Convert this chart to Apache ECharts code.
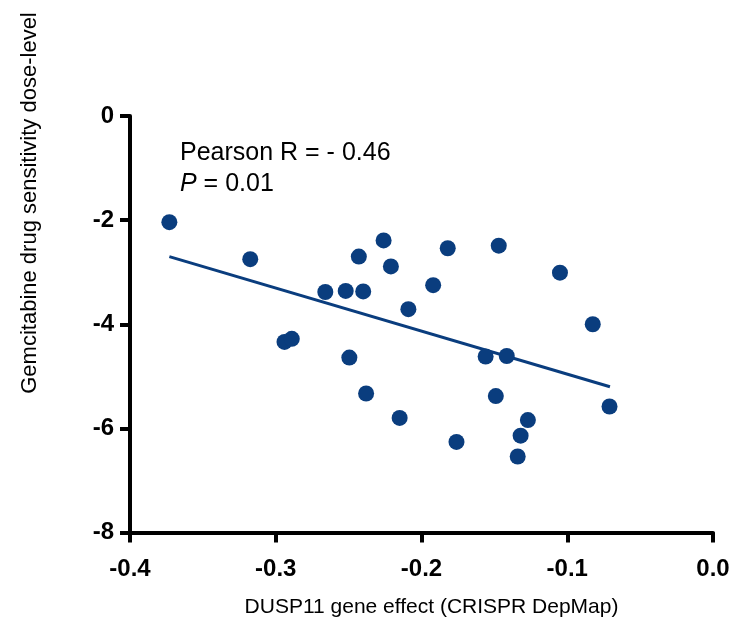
<!DOCTYPE html>
<html>
<head>
<meta charset="utf-8">
<script src="https://cdn.jsdelivr.net/npm/echarts@6/dist/echarts.min.js"></script>
<style>
html,body{margin:0;padding:0;background:#fff;}
#chart{width:737px;height:632px;}
</style>
</head>
<body>
<div id="chart"></div>
<script>
// DUSP11 gene effect (x) vs Gemcitabine drug sensitivity dose-level (y)
const geneEffect = [-0.373,-0.3175,-0.294,-0.289,-0.266,-0.252,-0.240,-0.2495,-0.243,-0.238,-0.226,-0.221,-0.215,-0.209,-0.192,-0.182,-0.176,-0.147,-0.156,-0.1415,-0.149,-0.127,-0.132,-0.134,-0.105,-0.0825,-0.071];
const sensitivity = [-2.04,-2.75,-4.34,-4.28,-3.38,-3.36,-3.37,-4.64,-2.70,-5.33,-2.39,-2.89,-5.80,-3.71,-3.25,-2.54,-6.26,-2.49,-4.62,-4.61,-5.38,-5.84,-6.14,-6.54,-3.01,-4.00,-5.58];
// regression line endpoints
const fitX = [-0.373,-0.0707];
const fitY = [-2.70,-5.20];
const xTicks = [-0.4,-0.3,-0.2,-0.1,0.0];
const yTicks = [0,-2,-4,-6,-8];

const col = '#0a3d7e';
const chart = echarts.init(document.getElementById('chart'));
const font = '"Liberation Sans", Arial, Helvetica, sans-serif';

chart.setOption({
  animation:false,
  grid:{left:130,right:24,top:116,bottom:99.5,containLabel:false},
  xAxis:{
    type:'value', min:-0.4, max:0, interval:0.1,
    splitLine:{show:false},
    axisLine:{show:true,onZero:false,lineStyle:{color:'#000',width:4}},
    axisTick:{show:true,length:10,lineStyle:{color:'#000',width:4}},
    axisLabel:{margin:25,color:'#000',fontSize:24,fontWeight:'bold',fontFamily:font,
      formatter:v=>{const t=xTicks.find(k=>Math.abs(k-v)<1e-9);return (t!==undefined?t:v).toFixed(1);}},
    name:'DUSP11 gene effect (CRISPR DepMap)', nameLocation:'middle', nameGap:64,
    nameTextStyle:{color:'#000',fontSize:21,fontFamily:font,padding:[0,0,0,20]}
  },
  yAxis:{
    type:'value', min:-8, max:0, interval:2,
    splitLine:{show:false},
    axisLine:{show:true,onZero:false,lineStyle:{color:'#000',width:4}},
    axisTick:{show:true,length:10,lineStyle:{color:'#000',width:4}},
    axisLabel:{margin:16,color:'#000',fontSize:24,fontWeight:'bold',fontFamily:font,
      formatter:v=>String(yTicks.find(k=>Math.abs(k-v)<1e-9) ?? v)}
  },
  graphic:[
    {type:'text',rotation:Math.PI/2,x:30,y:203,
      style:{text:'Gemcitabine drug sensitivity dose-level',font:'22px '+font,fill:'#000',
        textAlign:'center',textVerticalAlign:'middle'}},
    {type:'text',left:180,top:141,
      style:{text:'Pearson R = - 0.46',font:'25px '+font,fill:'#000'}},
    {type:'text',left:180,top:172,
      style:{rich:{i:{fontStyle:'italic',fontSize:25,fontFamily:font,fill:'#000'},n:{fontSize:25,fontFamily:font,fill:'#000'}},
        text:'{i|P}{n| = 0.01}'}}
  ],
  series:[
    {type:'line',data:fitX.map((x,i)=>[x,fitY[i]]),symbol:'none',
      lineStyle:{color:col,width:3},z:2},
    {type:'scatter',data:geneEffect.map((x,i)=>[x,sensitivity[i]]),symbolSize:16,
      itemStyle:{color:col,opacity:1},z:3}
  ]
});
</script>
</body>
</html>
